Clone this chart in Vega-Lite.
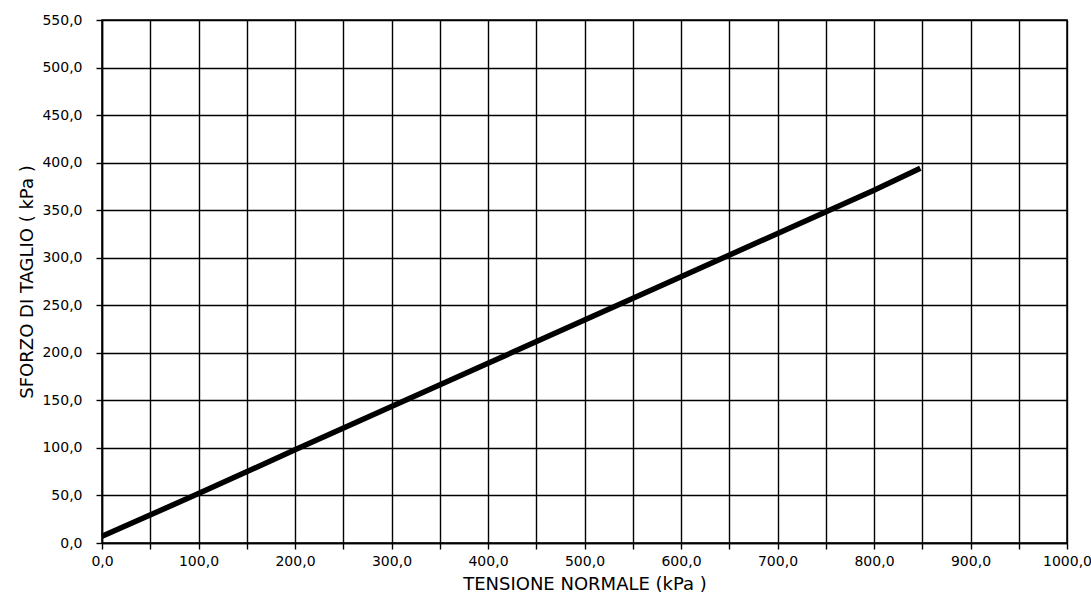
{
  "$schema": "https://vega.github.io/schema/vega-lite/v6.json",
  "autosize": "none",
  "width": 965,
  "height": 523,
  "padding": {"left": 102, "top": 20, "right": 24, "bottom": 60},
  "background": "white",
  "config": {
    "font": "DejaVu Sans",
    "view": {"stroke": "black", "strokeWidth": 1.5},
    "axis": {
      "gridColor": "black",
      "gridOpacity": 1,
      "gridWidth": 1.4,
      "domainColor": "black",
      "domainWidth": 1.5,
      "tickColor": "black",
      "tickSize": 6,
      "tickWidth": 1.4,
      "labelFont": "DejaVu Sans",
      "labelFontSize": 14,
      "labelColor": "black",
      "titleFont": "DejaVu Sans",
      "titleFontSize": 18,
      "titleFontWeight": "normal",
      "titleColor": "black"
    }
  },
  "data": {
    "values": [
      {"tensione": 0, "sforzo": 7},
      {"tensione": 100, "sforzo": 52},
      {"tensione": 200, "sforzo": 98},
      {"tensione": 400, "sforzo": 189},
      {"tensione": 600, "sforzo": 280},
      {"tensione": 800, "sforzo": 371},
      {"tensione": 848, "sforzo": 394}
    ]
  },
  "mark": {"type": "line", "color": "black", "strokeWidth": 5.5, "strokeCap": "butt"},
  "encoding": {
    "x": {
      "field": "tensione",
      "type": "quantitative",
      "scale": {"domain": [0, 1000], "nice": false},
      "axis": {
        "title": "TENSIONE NORMALE (kPa )",
        "values": [0, 50, 100, 150, 200, 250, 300, 350, 400, 450, 500, 550, 600, 650, 700, 750, 800, 850, 900, 950, 1000],
        "labelExpr": "datum.value % 100 == 0 ? replace(format(datum.value, '.1f'), '.', ',') : ''",
        "labelPadding": 5,
        "titlePadding": 7,
        "labelFlush": false
      }
    },
    "y": {
      "field": "sforzo",
      "type": "quantitative",
      "scale": {"domain": [0, 550], "nice": false},
      "axis": {
        "title": "SFORZO DI TAGLIO ( kPa )",
        "values": [0, 50, 100, 150, 200, 250, 300, 350, 400, 450, 500, 550],
        "labelExpr": "replace(format(datum.value, '.1f'), '.', ',')",
        "labelPadding": 14,
        "titlePadding": 5
      }
    }
  }
}
